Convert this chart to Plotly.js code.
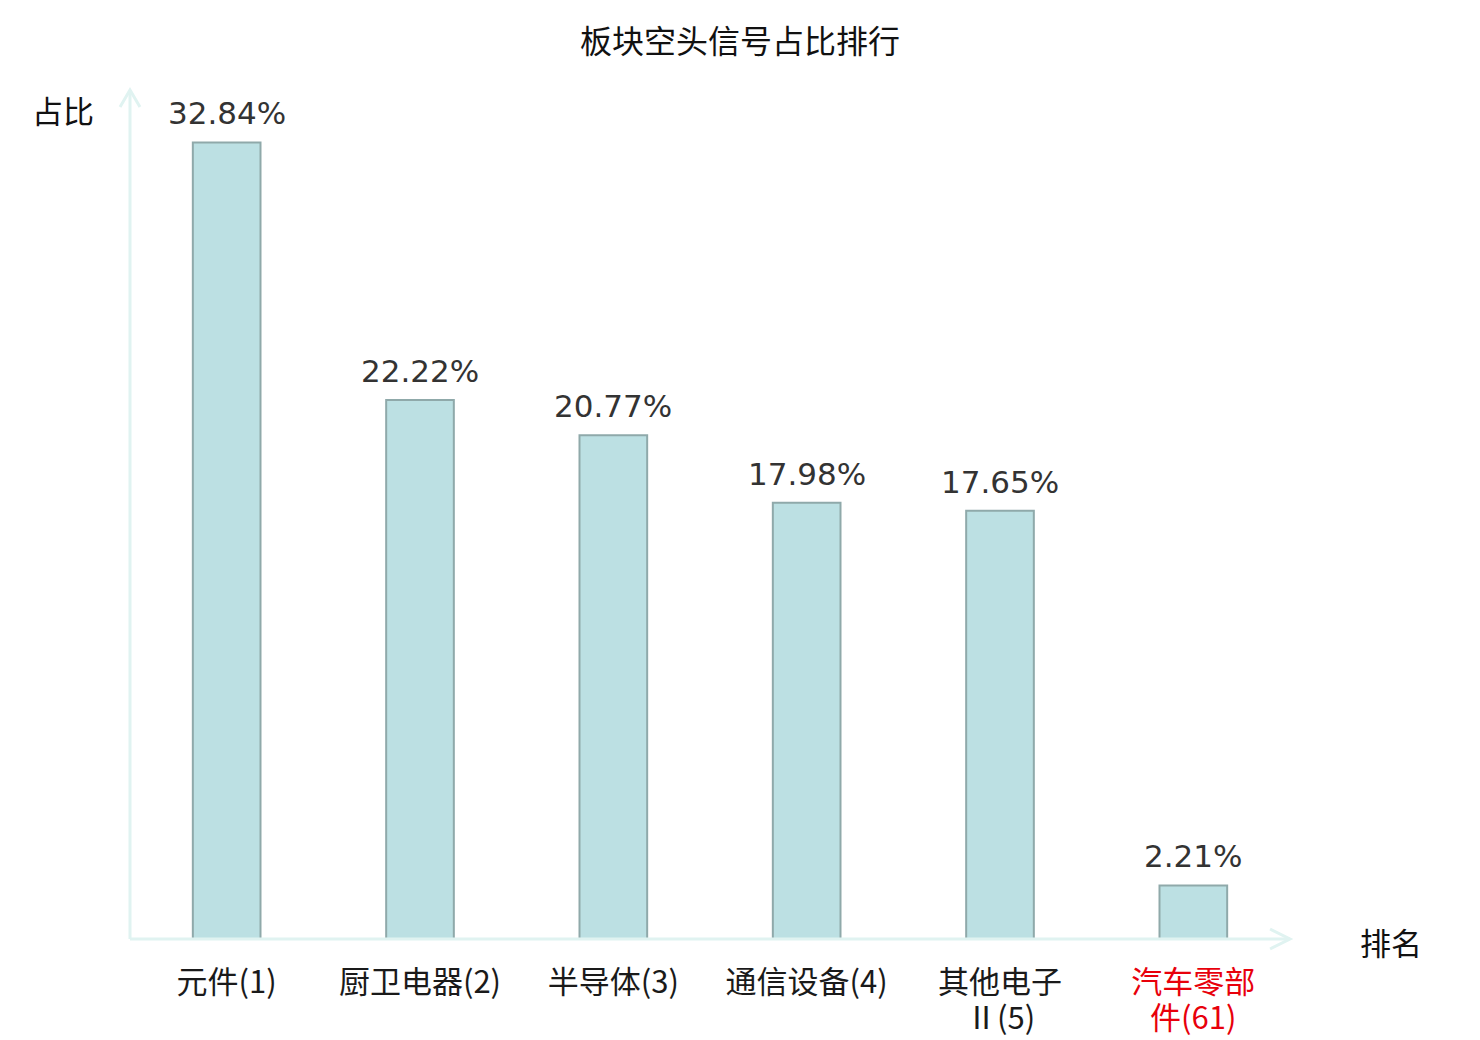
<!DOCTYPE html>
<html>
<head>
<meta charset="utf-8">
<script src="https://cdn.plot.ly/plotly-3.0.1.min.js"></script>
<style>
  html, body { margin: 0; padding: 0; background: #ffffff; }
  #chart { width: 1480px; height: 1040px; }
</style>
</head>
<body>
<div id="chart"></div>
<script>
'use strict';

// sector names with their rank (second line after <br>), and the share of short signals (%)
var categories = ['元件(1)', '厨卫电器(2)', '半导体(3)', '通信设备(4)', '其他电子<br>Ⅱ(5)', '汽车零部<br>件(61)'];
var shares = [32.84, 22.22, 20.77, 17.98, 17.65, 2.21];
var labelColors = ['#1a1a1a', '#1a1a1a', '#1a1a1a', '#1a1a1a', '#1a1a1a', '#e8000b'];

var axisColor = '#e0f3f1';
var cjk = '"Noto Sans CJK SC", "Noto Sans", sans-serif';

// first line of each name goes on the axis, the second line is set under it
// a bit tighter than plotly's own line spacing
var firstLines = categories.map(function (c) { return c.split('<br>')[0]; });
var secondLines = categories.map(function (c) { return c.split('<br>')[1] || ''; });

var tickText = firstLines.map(function (c, i) {
	return '<span style="color:' + labelColors[i] + '">' + c + '</span>';
});

var secondLineLabels = [];
secondLines.forEach(function (t, i) {
	if (!t) return;
	secondLineLabels.push({
		x: categories[i],
		y: 0,
		xref: 'x',
		yref: 'paper',
		text: t,
		showarrow: false,
		yanchor: 'middle',
		yshift: -76,
		font: { family: cjk, size: 31, color: labelColors[i] },
	});
});

// value labels above each bar
var valueLabels = shares.map(function (v, i) {
	return {
		x: categories[i],
		y: v,
		xref: 'x',
		yref: 'y',
		text: v.toFixed(2) + '%',
		showarrow: false,
		yanchor: 'bottom',
		yshift: 9,
		font: { family: '"DejaVu Sans", sans-serif', size: 31, color: '#333333' },
	};
});

var traces = [
	{
		type: 'bar',
		x: categories,
		y: shares,
		width: 0.35,
		marker: {
			color: '#bce0e3',
			line: { color: '#8fa9aa', width: 2 },
		},
		hoverinfo: 'none',
	},
];

var layout = {
	width: 1480,
	height: 1040,
	margin: { l: 130, r: 190, t: 90, b: 101, pad: 0 },
	paper_bgcolor: '#ffffff',
	plot_bgcolor: '#ffffff',
	showlegend: false,
	title: {
		text: '板块空头信号占比排行',
		font: { family: cjk, size: 32, color: '#111111' },
		x: 0.5,
		xanchor: 'center',
		y: 0.96,
		yanchor: 'middle',
	},
	xaxis: {
		type: 'category',
		range: [-0.5, 5.5],
		tickvals: categories,
		ticktext: tickText,
		tickfont: { family: cjk, size: 31, color: '#1a1a1a' },
		showgrid: false,
		zeroline: false,
		showline: false,
		ticks: '',
		ticklabelstandoff: 22,
		fixedrange: true,
	},
	yaxis: {
		range: [0, 35],
		showgrid: false,
		zeroline: false,
		showline: false,
		showticklabels: false,
		ticks: '',
		fixedrange: true,
	},
	// axis lines with open arrow heads
	shapes: [
		{ type: 'line', xref: 'paper', yref: 'paper', x0: 0, y0: 0, x1: 1, y1: 0, line: { color: axisColor, width: 3 } },
		{ type: 'line', xref: 'paper', yref: 'paper', x0: 0, y0: 0, x1: 0, y1: 1, line: { color: axisColor, width: 3 } },
		{ type: 'path', xref: 'paper', yref: 'paper', path: 'M 0.9828 0.0118 L 1 0 L 0.9828 -0.0118', line: { color: axisColor, width: 3 } },
		{ type: 'path', xref: 'paper', yref: 'paper', path: 'M -0.0086 0.98 L 0 1 L 0.0086 0.98', line: { color: axisColor, width: 3 } },
	],
	annotations: valueLabels.concat(secondLineLabels, [
		{
			text: '占比', xref: 'paper', yref: 'paper', x: -0.0578, y: 0.977,
			xanchor: 'center', yanchor: 'middle',
			showarrow: false, font: { family: cjk, size: 31, color: '#111111' },
		},
		{
			text: '排名', xref: 'paper', yref: 'paper', x: 1.087, y: -0.0035,
			xanchor: 'center', yanchor: 'middle',
			showarrow: false, font: { family: cjk, size: 31, color: '#111111' },
		},
	]),
	bargap: 0.65,
};

Plotly.newPlot('chart', traces, layout, { displayModeBar: false, staticPlot: true });
</script>
</body>
</html>
